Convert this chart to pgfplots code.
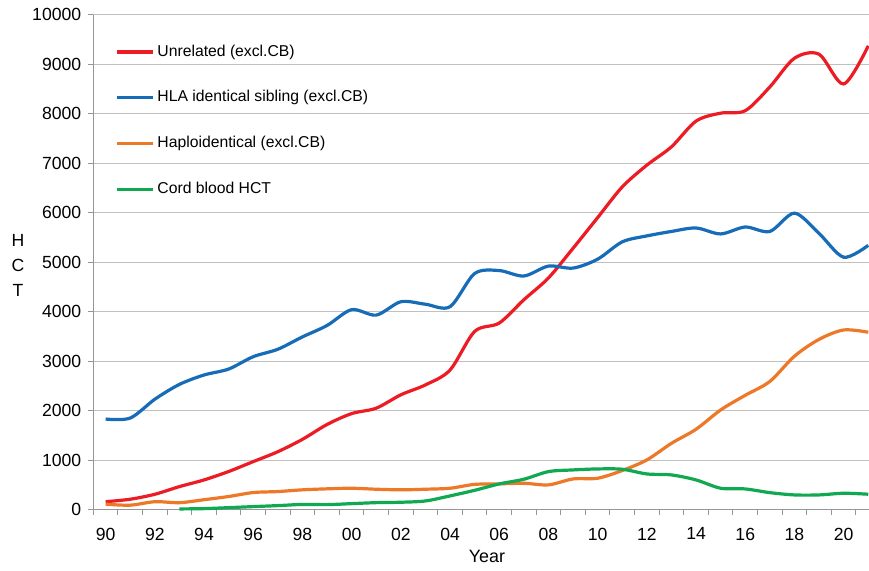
\documentclass[border=0pt]{standalone}
\usepackage{pgfplots}
\pgfplotsset{compat=1.18}
\usepackage{fontspec}
\setmainfont{Liberation Sans}
\usetikzlibrary{calc}
\definecolor{cred}{RGB}{237,28,36}
\definecolor{cblue}{RGB}{22,108,182}
\definecolor{corange}{RGB}{236,120,40}
\definecolor{cgreen}{RGB}{16,168,80}
\definecolor{gridc}{RGB}{192,192,192}
\definecolor{axc}{RGB}{150,150,150}
\newcommand{\fs}{\fontsize{11.8pt}{14pt}\selectfont}
\newcommand{\fa}{\fontsize{13.2pt}{16pt}\selectfont}
\begin{document}
\begin{tikzpicture}
\begin{axis}[
  name=ax,
  scale only axis,
  width=581.8pt, height=371.25pt,
  xmin=1989.5, xmax=2021.03,
  ymin=0, ymax=10000,
  axis x line*=bottom, axis y line*=left,
  axis line style={axc, line width=0.8pt, -},
  clip=false,
  ymajorgrids, grid style={gridc, line width=0.8pt},
  tick align=outside,
  major tick length=3.75pt,
  tick style={axc, line width=0.8pt},
  ytick={0,1000,...,10000},
  scaled y ticks=false,
  xtick={1989.5,1990.5,...,2020.5},
  xticklabels={},
  extra x ticks={1990,1992,...,2020},
  extra x tick labels={90,92,94,96,98,00,02,04,06,08,10,12,14,16,18,20},
  extra x tick style={tick style={draw=none}, xticklabel style={yshift=-6.3pt}},
  ticklabel style={font=\fa},
  yticklabel style={xshift=-1.85pt},
  /pgf/number format/.cd, 1000 sep={}, assume math mode=true, /pgfplots/.cd,
  every axis x label/.style={at={(axis description cs:0.5075,-0.0956)}, anchor=center, font=\fontsize{13.4pt}{16pt}\selectfont},
  every axis y label/.style={at={(axis description cs:-0.097,0.494)}, anchor=center, align=center, font=\fontsize{13.2pt}{18.75pt}\selectfont},
  xlabel={Year},
  ylabel={H\\C\\T},
  legend style={draw=none, fill=none, at={(axis description cs:0.0232,0.952)}, anchor=north west,
    font=\fs, row sep=18.35pt, inner xsep=3pt, inner ysep=2pt,
    nodes={inner sep=2pt, text height=9pt, text depth=3pt}},
  legend cell align=left,
  legend image code/.code={\draw[#1, line width=2.4pt] (0pt,0pt) -- (24pt,0pt); \path (0pt,0pt) -- (27pt,0pt);},
  every axis plot/.append style={line width=2.4pt, smooth, tension=0.5, mark=none},
]
\addplot[cred] coordinates {
(1990,160) (1991,210) (1992,310) (1993,465) (1994,600) (1995,770) (1996,970) (1997,1170)
(1998,1420) (1999,1720) (2000,1940) (2001,2050) (2002,2320) (2003,2520) (2004,2820)
(2005,3600) (2006,3770) (2007,4240) (2008,4680) (2009,5280) (2010,5900) (2011,6520)
(2012,6960) (2013,7330) (2014,7850) (2015,8010) (2016,8060) (2017,8540) (2018,9120)
(2019,9200) (2020,8600) (2021,9370)};
\addlegendentry{Unrelated (excl.CB)}
\addplot[cblue] coordinates {
(1990,1830) (1991,1850) (1992,2230) (1993,2530) (1994,2720) (1995,2840) (1996,3090)
(1997,3240) (1998,3490) (1999,3720) (2000,4040) (2001,3930) (2002,4200) (2003,4150)
(2004,4100) (2005,4770) (2006,4830) (2007,4720) (2008,4920) (2009,4880) (2010,5060)
(2011,5410) (2012,5530) (2013,5620) (2014,5690) (2015,5570) (2016,5710) (2017,5620)
(2018,5990) (2019,5580) (2020,5100) (2021,5340)};
\addlegendentry{HLA identical sibling (excl.CB)}
\addplot[corange] coordinates {
(1990,110) (1991,90) (1992,160) (1993,140) (1994,200) (1995,265) (1996,345) (1997,365)
(1998,400) (1999,420) (2000,432) (2001,412) (2002,400) (2003,412) (2004,432) (2005,510)
(2006,520) (2007,533) (2008,500) (2009,620) (2010,634) (2011,790) (2012,1004) (2013,1340)
(2014,1624) (2015,2014) (2016,2310) (2017,2590) (2018,3100) (2019,3440) (2020,3630)
(2021,3584)};
\addlegendentry{Haploidentical (excl.CB)}
\addplot[cgreen] coordinates {
(1993,14) (1994,20) (1995,40) (1996,61) (1997,81) (1998,105) (1999,101) (2000,121)
(2001,141) (2002,149) (2003,175) (2004,277) (2005,390) (2006,519) (2007,614) (2008,768)
(2009,802) (2010,822) (2011,816) (2012,721) (2013,701) (2014,600) (2015,432) (2016,418)
(2017,343) (2018,297) (2019,297) (2020,331) (2021,311)};
\addlegendentry{Cord blood HCT}
\end{axis}
\pgfresetboundingbox
\path[use as bounding box] ($(ax.south west)+(-70pt,-46pt)$) rectangle ($(ax.north east)+(0pt,11pt)$);
\end{tikzpicture}
\end{document}
